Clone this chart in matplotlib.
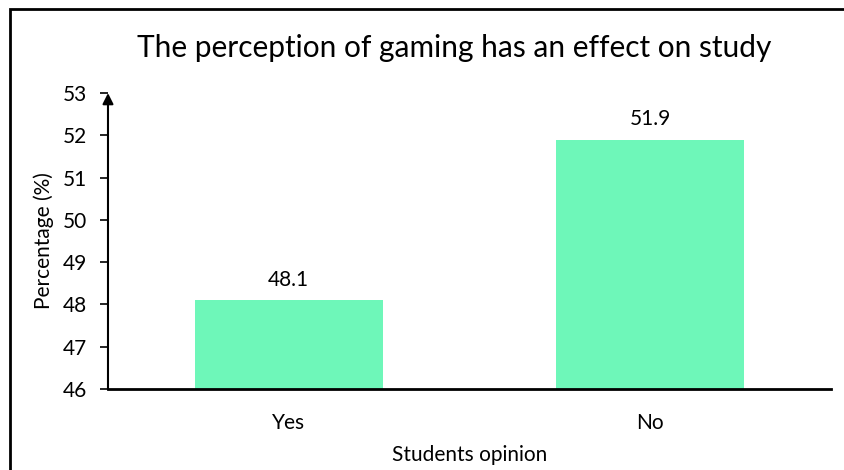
import matplotlib
matplotlib.use("Agg")
import matplotlib.pyplot as plt
from matplotlib.patches import Rectangle

plt.rcParams['font.family'] = ['Lato', 'DejaVu Sans']

# survey answers
categories = ['Yes', 'No']
percentages = [48.1, 51.9]
y_ticks = [46, 47, 48, 49, 50, 51, 52, 53]

bar_color = '#6ef7b9'

fig = plt.figure(figsize=(8.45, 4.7), dpi=100)
ax = fig.add_axes([0.1278, 0.1723, 0.8556, 0.6297])

x = range(len(categories))
bars = ax.bar(x, percentages, width=0.52, color=bar_color, zorder=2)
for rect, val in zip(bars, percentages):
    ax.text(rect.get_x() + rect.get_width() / 2, val + 0.25, f'{val}',
            ha='center', va='bottom', fontsize=15)

ax.set_xlim(-0.5, 1.5)
ax.set_ylim(46, 53)
ax.set_yticks(y_ticks)
ax.set_xticks(list(x))
ax.set_xticklabels(categories)
ax.tick_params(axis='y', labelsize=15, length=6, width=1.2, direction='out', pad=9)
ax.tick_params(axis='x', labelsize=15, length=0, pad=17)

for side in ['top', 'right']:
    ax.spines[side].set_visible(False)
ax.spines['left'].set_visible(False)
ax.spines['bottom'].set_linewidth(2)

# y axis drawn as an arrow
ax.annotate('', xy=(0, 1.0), xycoords='axes fraction', xytext=(0, 0),
            arrowprops=dict(arrowstyle='-|>', color='black', lw=1.5,
                            mutation_scale=16, shrinkA=0, shrinkB=0))

ax.set_ylabel('Percentage (%)', fontsize=15, labelpad=6.5)
ax.set_xlabel('Students opinion', fontsize=15, labelpad=9)
fig.text(0.537, 0.897, 'The perception of gaming has an effect on study',
         ha='center', va='center', fontsize=21.5)

# chart frame around the figure
fig.patches.append(Rectangle((10 / 845, -0.1), 1.2, 1 - 9 / 470 + 0.1,
                             transform=fig.transFigure, fill=False,
                             edgecolor='black', linewidth=2))

fig.savefig('out.png', dpi=100)
